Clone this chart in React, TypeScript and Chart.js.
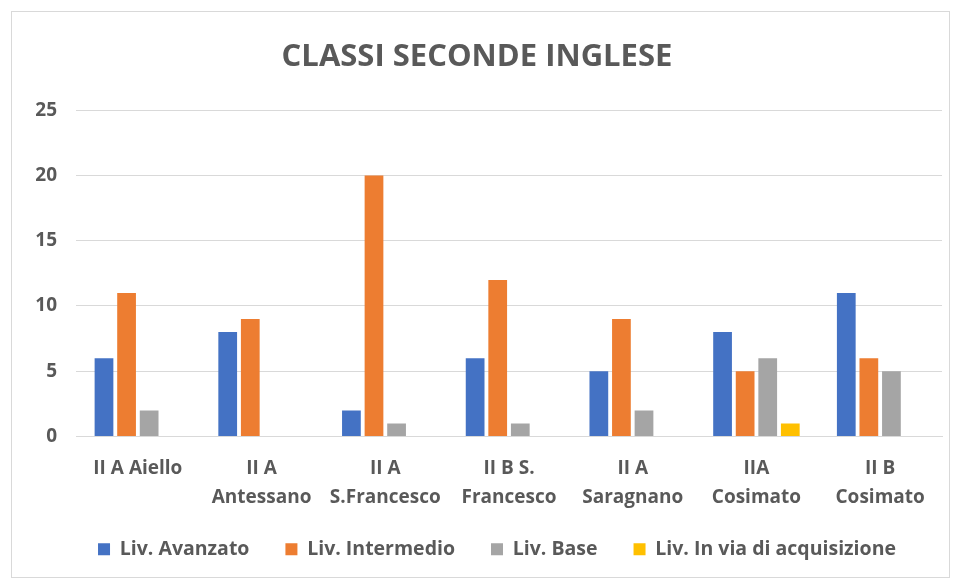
import React, { useEffect, useRef } from "react";
import { Chart, registerables } from "chart.js";

Chart.register(...registerables);

const categories: (string | string[])[] = [
  "II A Aiello",
  ["II A", "Antessano"],
  ["II A", "S.Francesco"],
  ["II B S.", "Francesco"],
  ["II A", "Saragnano"],
  ["IIA", "Cosimato"],
  ["II B", "Cosimato"],
];
const avanzato = [6, 8, 2, 6, 5, 8, 11];
const intermedio = [11, 9, 20, 12, 9, 5, 6];
const base = [2, 0, 1, 1, 2, 6, 5];
const inVia = [0, 0, 0, 0, 0, 1, 0];
const seriesNames = ["Liv. Avanzato", "Liv. Intermedio", "Liv. Base", "Liv. In via di acquisizione"];
const colors = ["#4472C4", "#ED7D31", "#A5A5A5", "#FFC000"];
const titleText = "CLASSI SECONDE INGLESE";

const FONT = "'Open Sans', 'Noto Sans', sans-serif";
const TEXT = "#595959";

const adjustBoxes = {
  id: "adjustBoxes",
  afterLayout(chart: any) {
    const lg = chart.legend;
    if (lg) {
      lg.left += 20;
      lg.right += 20;
      lg.top -= 7;
      lg.bottom -= 7;
    }
    const x = chart.scales.x;
    if (x) {
      x.bottom += 20;
    }
  },
};

export default function App() {
  const ref = useRef<HTMLCanvasElement | null>(null);
  useEffect(() => {
    if (!ref.current) return;
    const values = [avanzato, intermedio, base, inVia];
    const chart = new Chart(ref.current, {
      type: "bar",
      data: {
        labels: categories,
        datasets: values.map((v, i) => ({
          label: seriesNames[i],
          data: v,
          backgroundColor: colors[i],
          borderWidth: 0,
          categoryPercentage: 0.73,
          barPercentage: 0.83,
        })),
      },
      plugins: [adjustBoxes],
      options: {
        animation: false,
        responsive: false,
        maintainAspectRatio: false,
        layout: { padding: { left: 0, right: 7, top: 0, bottom: 1 } },
        plugins: {
          title: {
            display: true,
            text: titleText,
            color: TEXT,
            font: { family: FONT, size: 31, weight: "bold" },
            padding: { top: 27, bottom: 34 },
          },
          legend: {
            position: "bottom",
            labels: {
              color: TEXT,
              font: { family: FONT, size: 19.5, weight: "bold" },
              boxWidth: 12,
              boxHeight: 12,
              padding: 36,
            },
          },
          tooltip: { enabled: false },
        },
        scales: {
          x: {
            grid: { display: false, drawTicks: false },
            border: { display: true, color: "#D9D9D9", width: 1 },
            ticks: {
              color: TEXT,
              font: { family: FONT, size: 19, weight: "bold", lineHeight: 1.52 },
              padding: 18,
              maxRotation: 0,
              autoSkip: false,
            },
            afterFit: (s: any) => {
              s.height = 74;
            },
          },
          y: {
            min: 0,
            max: 25,
            grid: { color: "#D9D9D9", drawTicks: false },
            border: { display: false },
            ticks: {
              stepSize: 5,
              color: TEXT,
              font: { family: FONT, size: 19, weight: "bold" },
              padding: 19,
            },
            afterFit: (s: any) => {
              s.width = 64;
            },
          },
        },
      },
    });
    return () => chart.destroy();
  }, []);
  return (
    <div
      style={{
        position: "absolute",
        left: 11,
        top: 11,
        width: 939,
        height: 567,
        border: "1px solid #D9D9D9",
        boxSizing: "border-box",
        background: "#fff",
      }}
    >
      <canvas ref={ref} width={937} height={565} style={{ display: "block" }} />
    </div>
  );
}
